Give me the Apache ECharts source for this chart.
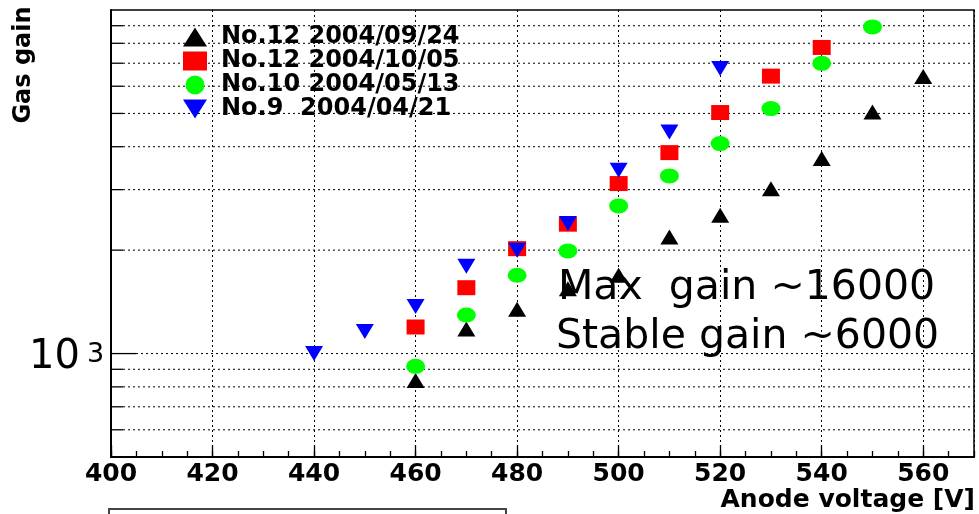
<!DOCTYPE html>
<html>
<head>
<meta charset="utf-8">
<script src="https://cdn.jsdelivr.net/npm/echarts@6/dist/echarts.min.js"></script>
<style>
  html, body { margin: 0; padding: 0; background: #fff; }
  #chart { width: 979px; height: 514px; }
</style>
</head>
<body>
<div id="chart"></div>
<script>
// data (gain on a log axis)
const seriesNames = ['No.12 2004/09/24', 'No.12 2004/10/05', 'No.10 2004/05/13', 'No.9  2004/04/21'];

const voltsA = [460, 470, 480, 490, 500, 510, 520, 530, 540, 550, 560];
const gainA  = [835, 1180, 1345, 1545, 1690, 2185, 2525, 3020, 3695, 5050, 6400];

const voltsB = [460, 470, 480, 490, 500, 510, 520, 530, 540];
const gainB  = [1195, 1555, 2020, 2380, 3125, 3845, 5030, 6420, 7780];

const voltsC = [460, 470, 480, 490, 500, 510, 520, 530, 540, 550];
const gainC  = [918, 1295, 1690, 1990, 2690, 3290, 4085, 5165, 6995, 8930];

const voltsD = [440, 450, 460, 470, 480, 490, 500, 510, 520];
const gainD  = [1000, 1160, 1370, 1795, 2000, 2390, 3415, 4415, 6760];

const xRange = [400, 570];
const yRange = [500, 10000];
const yGridValues = [600, 700, 800, 900, 1000, 2000, 3000, 4000, 5000, 6000, 7000, 8000, 9000];
const yTickLabels = { 1000: ['10', '3'] };

const colors = ['#000000', '#ff0000', '#00ff00', '#0000ff'];
const symbols = ['triangle', 'rect', 'circle', 'path://M0,0L10,0L5,8.5Z'];
const symbolSizes = [[18, 15], [18, 15], [19, 15], [18, 15]];

const zip = (xs, ys) => xs.map((x, i) => [x, ys[i]]);
const allData = [zip(voltsA, gainA), zip(voltsB, gainB), zip(voltsC, gainC), zip(voltsD, gainD)];

const boldFont = 'DejaVu Sans';

function renderYGrid(params, api) {
  const v = api.value(1);
  const y = api.coord([xRange[0], v])[1];
  const cs = params.coordSys;
  const label = yTickLabels[v];
  const tickLen = label ? 25 : 12;
  const children = [
    { type: 'line', shape: { x1: cs.x + tickLen, y1: y, x2: cs.x + cs.width, y2: y },
      style: { stroke: '#000', lineWidth: 1, lineDash: [2, 3] } },
    { type: 'line', shape: { x1: cs.x, y1: y, x2: cs.x + tickLen, y2: y },
      style: { stroke: '#000', lineWidth: 1.3 } }
  ];
  if (label) {
    children.push({ type: 'text', x: cs.x - 31, y: y + 4,
      style: { text: label[0], font: '40px "DejaVu Sans"', fill: '#000', align: 'right', verticalAlign: 'middle' } });
    children.push({ type: 'text', x: cs.x - 24, y: y + 1,
      style: { text: label[1], font: '27px "DejaVu Sans"', fill: '#000', align: 'left', verticalAlign: 'middle' } });
  }
  return { type: 'group', children: children };
}

const chart = echarts.init(document.getElementById('chart'));

const scatterSeries = seriesNames.map((name, i) => ({
  name: name,
  type: 'scatter',
  xAxisIndex: 0,
  symbol: symbols[i],
  symbolSize: symbolSizes[i],
  itemStyle: { color: colors[i], opacity: 1 },
  z: 5,
  data: allData[i]
}));

chart.setOption({
  animation: false,
  backgroundColor: '#fff',
  grid: { left: 111, right: 5, top: 10, bottom: 57, show: true, borderColor: '#000', borderWidth: 1.5 },
  legend: {
    orient: 'vertical', left: 178, top: 20,
    itemWidth: 24, itemHeight: 19, itemGap: 0,
    symbolKeepAspect: false,
    selectedMode: false,
    data: seriesNames,
    textStyle: { fontFamily: boldFont, fontWeight: 'bold', fontSize: 24, color: '#000', padding: [0, 0, 0, 9], lineHeight: 24 }
  },
  xAxis: [
    {
      type: 'value', min: xRange[0], max: xRange[1], interval: 20, position: 'bottom',
      axisLine: { lineStyle: { color: '#000', width: 2 } },
      axisTick: { inside: true, length: 12, lineStyle: { color: '#000', width: 1.3 } },
      axisLabel: { fontFamily: boldFont, fontWeight: 'bold', fontSize: 25, color: '#000', margin: 5, showMaxLabel: false },
      splitLine: { show: true, lineStyle: { color: '#000', width: 1, type: [2, 3] } },
      name: 'Anode voltage [V]', nameLocation: 'end', nameGap: 1,
      nameTextStyle: { fontFamily: boldFont, fontWeight: 'bold', fontSize: 25, color: '#000', align: 'right', verticalAlign: 'top', padding: [31, 0, 0, 0] }
    },
    {
      type: 'value', min: xRange[0], max: xRange[1], interval: 5, position: 'bottom',
      axisLine: { show: false },
      axisTick: { inside: true, length: 6, lineStyle: { color: '#000', width: 1.3 } },
      axisLabel: { show: false },
      splitLine: { show: false }
    }
  ],
  yAxis: {
    type: 'log', logBase: 10, min: yRange[0], max: yRange[1],
    axisLine: { show: true, lineStyle: { color: '#000', width: 2 } },
    axisTick: { show: false },
    axisLabel: { show: false },
    splitLine: { show: false }
  },
  graphic: [
    { type: 'text', x: 24, y: 65, rotation: Math.PI / 2,
      style: { text: 'Gas gain', font: 'bold 24px "DejaVu Sans"', fill: '#000', align: 'center', verticalAlign: 'middle' } },
    { type: 'text', x: 558, y: 268, z: 100,
      style: { text: 'Max  gain ~16000', font: '41px "DejaVu Sans"', fill: '#000', align: 'left', verticalAlign: 'top' } },
    { type: 'text', x: 556, y: 317, z: 100,
      style: { text: 'Stable gain ~6000', font: '41px "DejaVu Sans"', fill: '#000', align: 'left', verticalAlign: 'top' } },
    { type: 'rect', shape: { x: 109, y: 509, width: 397, height: 30 },
      style: { fill: '#fff', stroke: '#444', lineWidth: 2 } }
  ],
  series: [
    {
      type: 'custom', name: 'ygrid', coordinateSystem: 'cartesian2d', silent: true, clip: false, z: 1,
      renderItem: renderYGrid,
      data: yGridValues.map(v => [xRange[0], v])
    }
  ].concat(scatterSeries)
});
</script>
</body>
</html>
